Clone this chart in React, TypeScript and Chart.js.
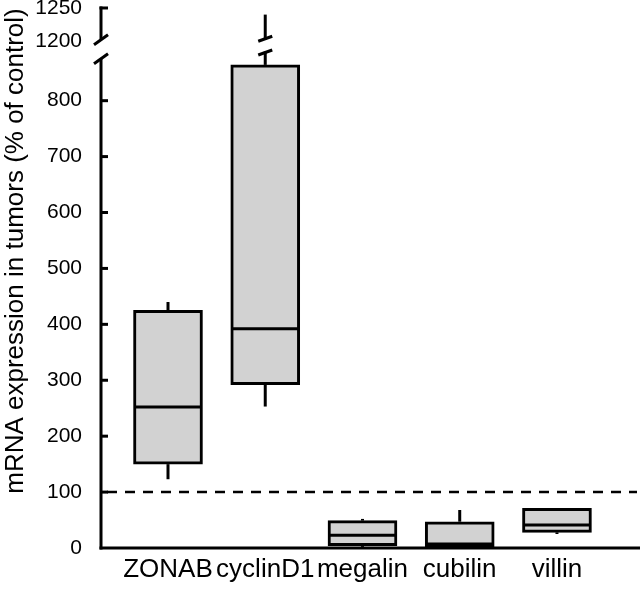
import React, { useEffect, useRef } from "react";
import { Chart, registerables } from "chart.js";

Chart.register(...registerables);

const categories = ["ZONAB", "cyclinD1", "megalin", "cubilin", "villin"];
const whiskerLow = [123, 253, 2, 0, 25];
const boxLow = [150, 292, 4, 1, 28];
const medians = [252, 392, 23, 7, 41];
const boxHigh = [425, 864, 49, 47, 71];
const whiskerHigh = [440, 1240, 52, 68, 71];

const lowerTicks = [0, 100, 200, 300, 400, 500, 600, 700, 800];
const upperTicks = [1200, 1250];
const controlLevel = 100;
const lowerMin = 0;
const lowerMax = 896;
const upperMin = 1191;
const upperMax = 1253;
const lowerAxisBreak = 875;
const lowerWhiskerBreak = 888;
const upperBreak = 1202;

const yTitle = "mRNA expression in tumors (% of control)";
const FONT = "'Liberation Sans', Arial, Helvetica, sans-serif";

const boxPlugin = {
  id: "boxExtras",
  beforeDatasetsDraw(chart: any) {
    const ctx = chart.ctx;
    const x = chart.scales.x;
    const yl = chart.scales.y;
    const yu = chart.scales.yTop;
    ctx.save();
    ctx.strokeStyle = "#000";
    ctx.lineWidth = 3;
    ctx.lineCap = "butt";
    const line = (x1: number, y1: number, x2: number, y2: number) => {
      ctx.beginPath();
      ctx.moveTo(x1, y1);
      ctx.lineTo(x2, y2);
      ctx.stroke();
    };
    const slash = (px: number, py: number) => line(px - 7, py + 2.5, px + 7, py - 2.5);
    categories.forEach((_, i) => {
      const px = x.getPixelForValue(i);
      line(px, yl.getPixelForValue(whiskerLow[i]), px, yl.getPixelForValue(boxLow[i]));
      if (whiskerHigh[i] > lowerWhiskerBreak) {
        line(px, yl.getPixelForValue(boxHigh[i]), px, yl.getPixelForValue(lowerWhiskerBreak));
        slash(px, yl.getPixelForValue(lowerWhiskerBreak) + 1);
        line(px, yu.getPixelForValue(upperBreak), px, yu.getPixelForValue(whiskerHigh[i]));
        slash(px, yu.getPixelForValue(upperBreak) - 1);
      } else {
        line(px, yl.getPixelForValue(boxHigh[i]), px, yl.getPixelForValue(whiskerHigh[i]));
      }
    });
    ctx.restore();
  },
  afterDatasetsDraw(chart: any) {
    const ctx = chart.ctx;
    const x = chart.scales.x;
    const yl = chart.scales.y;
    const yu = chart.scales.yTop;
    const area = chart.chartArea;
    ctx.save();
    ctx.strokeStyle = "#000";
    ctx.lineWidth = 3;
    ctx.lineCap = "butt";
    const line = (x1: number, y1: number, x2: number, y2: number) => {
      ctx.beginPath();
      ctx.moveTo(x1, y1);
      ctx.lineTo(x2, y2);
      ctx.stroke();
    };
    // medians
    const half = 33;
    categories.forEach((_, i) => {
      const px = x.getPixelForValue(i);
      const py = yl.getPixelForValue(medians[i]);
      line(px - half, py, px + half, py);
    });
    // dashed control line
    ctx.save();
    ctx.setLineDash([10, 8]);
    ctx.lineWidth = 2.5;
    const cy = yl.getPixelForValue(controlLevel);
    line(area.left + 6, cy, area.right, cy);
    ctx.restore();
    // axes
    const ax = area.left;
    const y0 = yl.getPixelForValue(lowerMin);
    line(ax - 1.5, y0, area.right + 3, y0);
    const lb = yl.getPixelForValue(lowerAxisBreak);
    line(ax, y0 + 1.5, ax, lb);
    line(ax - 7, lb + 5, ax + 7, lb - 5);
    const ub = yu.getPixelForValue(upperBreak);
    const ut = yu.getPixelForValue(upperTicks[upperTicks.length - 1]);
    line(ax, ub, ax, ut - 1.5);
    line(ax - 7, ub + 5, ax + 7, ub - 5);
    // inward ticks
    lowerTicks.forEach((v) => {
      if (v <= lowerMin) return;
      const py = yl.getPixelForValue(v);
      line(ax, py, ax + 7, py);
    });
    upperTicks.forEach((v) => {
      if (v <= upperBreak + 5) return;
      const py = yu.getPixelForValue(v);
      line(ax - 1.5, py, ax + 7, py);
    });
    // y title
    ctx.fillStyle = "#000";
    ctx.font = `26px ${FONT}`;
    ctx.textAlign = "center";
    ctx.textBaseline = "middle";
    ctx.translate(16, 251);
    ctx.rotate(-Math.PI / 2);
    ctx.fillText(yTitle, 0, 0);
    ctx.restore();
  },
};

export default function App() {
  const ref = useRef<HTMLCanvasElement | null>(null);
  useEffect(() => {
    document.body.style.margin = "0";
    const canvas = ref.current;
    if (!canvas) return;
    const fixWidth = (s: any) => {
      s.width = 101;
      s.paddingTop = 0;
      s.paddingBottom = 0;
    };
    const yTickOpts = {
      color: "#000",
      font: { size: 21, family: FONT },
      padding: 19,
      autoSkip: false,
      callback: (v: any) => String(v),
    };
    const chart = new Chart(canvas, {
      type: "bar",
      data: {
        datasets: [
          {
            data: categories.map((_, i) => ({ x: i, y: [boxLow[i], boxHigh[i]] })) as any,
            backgroundColor: "#d2d2d2",
            borderColor: "#000",
            borderWidth: 3,
            borderSkipped: false,
            barThickness: 69,
            yAxisID: "y",
            xAxisID: "x",
          },
        ],
      },
      options: {
        animation: false,
        responsive: true,
        maintainAspectRatio: false,
        layout: { padding: { top: 6, right: 3, bottom: 0, left: 0 } },
        plugins: { legend: { display: false }, tooltip: { enabled: false } },
        scales: {
          y: {
            type: "linear",
            position: "left",
            stack: "ys",
            stackWeight: 501,
            min: lowerMin,
            max: lowerMax,
            afterBuildTicks: (s: any) => {
              s.ticks = lowerTicks.map((v) => ({ value: v }));
            },
            afterFit: fixWidth,
            grid: { display: false, drawTicks: false },
            border: { display: false },
            ticks: yTickOpts,
          },
          yTop: {
            type: "linear",
            position: "left",
            stack: "ys",
            stackWeight: 41,
            min: upperMin,
            max: upperMax,
            afterBuildTicks: (s: any) => {
              s.ticks = upperTicks.map((v) => ({ value: v }));
            },
            afterFit: fixWidth,
            grid: { display: false, drawTicks: false },
            border: { display: false },
            ticks: yTickOpts,
          },
          x: {
            type: "linear",
            offset: false,
            min: -0.689,
            max: 4.823,
            afterBuildTicks: (s: any) => {
              s.ticks = categories.map((_, i) => ({ value: i }));
            },
            afterFit: (s: any) => {
              s.height = 44;
              s.paddingLeft = 0;
              s.paddingRight = 0;
            },
            grid: { display: false, drawTicks: false },
            border: { display: false },
            ticks: {
              color: "#000",
              font: { size: 26, family: FONT },
              padding: 6,
              autoSkip: false,
              maxRotation: 0,
              callback: (v: any) => categories[Number(v)] ?? "",
            },
          },
        } as any,
      },
      plugins: [boxPlugin],
    });
    return () => chart.destroy();
  }, []);
  return (
    <div style={{ position: "relative", width: 640, height: 592 }}>
      <canvas ref={ref} />
    </div>
  );
}
